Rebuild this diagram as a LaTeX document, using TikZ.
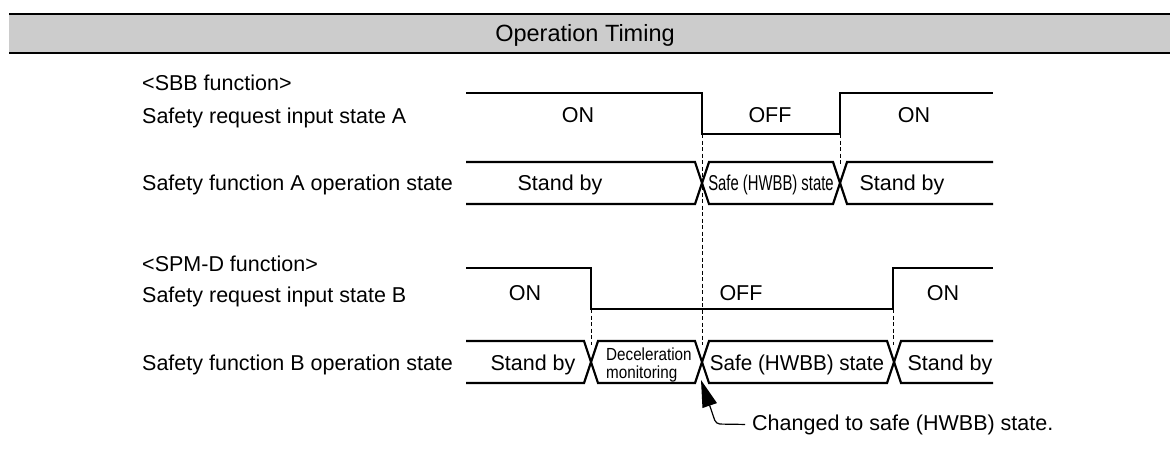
\documentclass[tikz,border=0pt]{standalone}
\usepackage{fontspec}
\usepackage{graphicx}
\setmainfont{Liberation Sans}
\usetikzlibrary{arrows.meta}
\definecolor{hdrgray}{HTML}{CCCCCC}
\begin{document}
\begin{tikzpicture}[x=1pt,y=-1pt,
  sig/.style={line width=2.2pt, line join=miter},
  guide/.style={line width=0.9pt, dash pattern=on 4pt off 2.5pt},
  rule/.style={line width=2.3pt},
  lbl/.style={anchor=base west, inner sep=0pt, font=\fontsize{21.5}{26}\selectfont},
  txt/.style={anchor=base, inner sep=0pt, font=\fontsize{21.5}{26}\selectfont},
  small/.style={anchor=base west, inner sep=0pt, font=\fontsize{17.5}{20}\selectfont}]
\useasboundingbox (0,0) rectangle (1170,451);

% header
\fill[hdrgray] (9,14) rectangle (1170,53);
\draw[rule] (9,14) -- (1170,14);
\draw[rule] (9,53) -- (1170,53);
\node[txt, font=\fontsize{23.5}{28}\selectfont] (title) at (585,41.5) {Operation Timing};

% labels
\node[lbl] (sbb)  at (142,90)  {<SBB function>};
\node[lbl] (reqA) at (142,123) {Safety request input state A};
\node[lbl] (funA) at (142,190) {Safety function A operation state};
\node[lbl] (spmd) at (142,271) {<SPM-D function>};
\node[lbl] (reqB) at (142,302) {Safety request input state B};
\node[lbl] (funB) at (142,370) {Safety function B operation state};

% guide lines
\draw[guide] (702,134) -- (702,345);
\draw[guide] (840,134) -- (840,166);
\draw[guide] (591,309) -- (591,345);
\draw[guide] (893,309) -- (893,345);

% signal A1
\draw[sig] (466,93) -- (702,93) -- (702,134) -- (840,134) -- (840,93) -- (993,93);
\node[txt] (a1on)  at (578,122.5) {ON};
\node[txt] (a1off) at (770,122.5) {OFF};
\node[txt] (a1on2) at (914,122.5) {ON};

% signal A2
\draw[sig] (466,162) -- (695,162) -- (709,204) -- (833,204) -- (847,162) -- (993,162);
\draw[sig] (466,204) -- (695,204) -- (709,162) -- (833,162) -- (847,204) -- (993,204);
\node[txt] (a2sb)  at (560,190.5) {Stand by};
\node[txt] (a2safe) at (771,190.5) {\scalebox{0.69}[1]{Safe (HWBB) state}};
\node[txt] (a2sb2) at (902,190.5) {Stand by};

% signal B1
\draw[sig] (466,268) -- (591,268) -- (591,309) -- (893,309) -- (893,268) -- (993,268);
\node[txt] (b1on)  at (525,300.5) {ON};
\node[txt] (b1off) at (741,300.5) {OFF};
\node[txt] (b1on2) at (943,300.5) {ON};

% signal B2
\draw[sig] (466,341) -- (584,341) -- (598,383) -- (695,383) -- (709,341) -- (887,341) -- (901,383) -- (993,383);
\draw[sig] (466,383) -- (584,383) -- (598,341) -- (695,341) -- (709,383) -- (887,383) -- (901,341) -- (993,341);
\node[txt] (b2sb)  at (533,370) {Stand by};
\node[small] (dec1) at (606,360) {\scalebox{0.87}[1]{Deceleration}};
\node[small] (dec2) at (606,378) {\scalebox{0.87}[1]{monitoring}};
\node[txt] (b2safe) at (797,370) {\scalebox{0.96}[1]{Safe (HWBB) state}};
\node[txt] (b2sb2) at (950,370) {Stand by};

% annotation
\coordinate (tip) at (701,380);
\coordinate (bend) at (716,424);
\node[lbl] (chg) at (752,430) {Changed to safe (HWBB) state.};
\draw[line width=1.2pt, rounded corners=4pt, -{Triangle[length=27pt,width=15pt]}]
  ([xshift=-7pt]chg.west) -- (bend) -- (tip);
\end{tikzpicture}
\end{document}
